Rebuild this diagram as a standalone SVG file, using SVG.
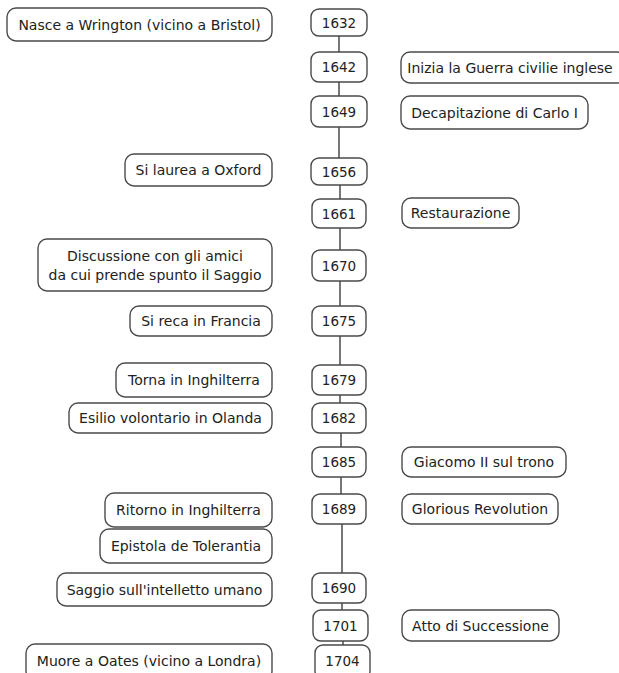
<svg xmlns="http://www.w3.org/2000/svg" width="619" height="673" viewBox="0 0 619 673">
<style>
.box{fill:#fff;stroke:#4a4a4a;stroke-width:1.4}
.t{font-family:"DejaVu Sans",Verdana,sans-serif;font-size:14px;fill:#222;text-anchor:middle}
.y{font-size:13.5px}
.c{stroke:#4a4a4a;stroke-width:1.5;fill:none}
</style>
<rect width="619" height="673" fill="#fff"/>
<g id="connectors">
<line class="c" x1="339" y1="36" x2="339" y2="52"/>
<line class="c" x1="339" y1="82" x2="339" y2="96"/>
<line class="c" x1="339" y1="127" x2="339" y2="158"/>
<line class="c" x1="340" y1="185" x2="340" y2="199"/>
<line class="c" x1="340" y1="228" x2="340" y2="250"/>
<line class="c" x1="340" y1="281" x2="340" y2="306"/>
<line class="c" x1="340" y1="336" x2="340" y2="365"/>
<line class="c" x1="340" y1="395" x2="340" y2="403"/>
<line class="c" x1="341" y1="433" x2="341" y2="447"/>
<line class="c" x1="341" y1="477" x2="341" y2="494"/>
<line class="c" x1="342" y1="524" x2="342" y2="573"/>
<line class="c" x1="342" y1="603" x2="342" y2="610"/>
<line class="c" x1="343" y1="641" x2="343" y2="645"/>
</g>
<g id="y1632"><rect class="box" x="311" y="9" width="56" height="27" rx="8"/><text class="t y" x="339" y="27.5">1632</text></g>
<g id="y1642"><rect class="box" x="311" y="52" width="56" height="30" rx="8"/><text class="t y" x="339" y="72">1642</text></g>
<g id="y1649"><rect class="box" x="311" y="96" width="56" height="31" rx="8"/><text class="t y" x="339" y="116.5">1649</text></g>
<g id="y1656"><rect class="box" x="311" y="158" width="56" height="27" rx="8"/><text class="t y" x="339" y="176.5">1656</text></g>
<g id="y1661"><rect class="box" x="312" y="199" width="54" height="29" rx="8"/><text class="t y" x="339" y="218.5">1661</text></g>
<g id="y1670"><rect class="box" x="312" y="250" width="54" height="31" rx="8"/><text class="t y" x="339" y="270.5">1670</text></g>
<g id="y1675"><rect class="box" x="312" y="306" width="54" height="30" rx="8"/><text class="t y" x="339" y="326">1675</text></g>
<g id="y1679"><rect class="box" x="312" y="365" width="54" height="30" rx="8"/><text class="t y" x="339" y="385">1679</text></g>
<g id="y1682"><rect class="box" x="312" y="403" width="54" height="30" rx="8"/><text class="t y" x="339" y="423">1682</text></g>
<g id="y1685"><rect class="box" x="312" y="447" width="54" height="30" rx="8"/><text class="t y" x="339" y="467">1685</text></g>
<g id="y1689"><rect class="box" x="312" y="494" width="54" height="30" rx="8"/><text class="t y" x="339" y="514">1689</text></g>
<g id="y1690"><rect class="box" x="312" y="573" width="54" height="30" rx="8"/><text class="t y" x="339" y="593">1690</text></g>
<g id="y1701"><rect class="box" x="313" y="610" width="55" height="31" rx="8"/><text class="t y" x="340.5" y="630.5">1701</text></g>
<g id="y1704"><rect class="box" x="315" y="645" width="55" height="34" rx="8"/><text class="t y" x="342.5" y="665.5">1704</text></g>

<g id="nasce"><rect class="box" x="7" y="8" width="265" height="33" rx="9"/><text class="t" x="139.5" y="29.5">Nasce a Wrington (vicino a Bristol)</text></g>
<g id="inizia"><rect class="box" x="401" y="52" width="225" height="31" rx="9"/><text class="t" x="510" y="72.5">Inizia la Guerra civilie inglese</text></g>
<g id="decapitazione"><rect class="box" x="401" y="96" width="187" height="33" rx="9"/><text class="t" x="494.5" y="117.5">Decapitazione di Carlo I</text></g>
<g id="laurea"><rect class="box" x="125" y="154" width="147" height="32" rx="9"/><text class="t" x="198.5" y="175">Si laurea a Oxford</text></g>
<g id="restaurazione"><rect class="box" x="402" y="198" width="117" height="30" rx="9"/><text class="t" x="460.5" y="218">Restaurazione</text></g>
<g id="discussione"><rect class="box" x="38" y="239" width="234" height="52" rx="9"/><text class="t" x="155" y="261">Discussione con gli amici</text><text class="t" x="155" y="279.5">da cui prende spunto il Saggio</text></g>
<g id="francia"><rect class="box" x="130" y="306" width="142" height="30" rx="9"/><text class="t" x="201" y="326">Si reca in Francia</text></g>
<g id="torna"><rect class="box" x="116" y="363" width="156" height="34" rx="9"/><text class="t" x="194" y="385">Torna in Inghilterra</text></g>
<g id="esilio"><rect class="box" x="69" y="403" width="203" height="30" rx="9"/><text class="t" x="170.5" y="423">Esilio volontario in Olanda</text></g>
<g id="giacomo"><rect class="box" x="402" y="447" width="164" height="30" rx="9"/><text class="t" x="484" y="467">Giacomo II sul trono</text></g>
<g id="ritorno"><rect class="box" x="105" y="493" width="167" height="34" rx="9"/><text class="t" x="188.5" y="515">Ritorno in Inghilterra</text></g>
<g id="glorious"><rect class="box" x="402" y="494" width="156" height="30" rx="9"/><text class="t" x="480" y="514">Glorious Revolution</text></g>
<g id="epistola"><rect class="box" x="100" y="529" width="172" height="34" rx="9"/><text class="t" x="186" y="551">Epistola de Tolerantia</text></g>
<g id="saggio"><rect class="box" x="57" y="573" width="215" height="33" rx="9"/><text class="t" x="164.5" y="594.5">Saggio sull'intelletto umano</text></g>
<g id="atto"><rect class="box" x="402" y="610" width="157" height="31" rx="9"/><text class="t" x="480.5" y="630.5">Atto di Successione</text></g>
<g id="muore"><rect class="box" x="26" y="644" width="246" height="36" rx="9"/><text class="t" x="149" y="665.5">Muore a Oates (vicino a Londra)</text></g>
</svg>
